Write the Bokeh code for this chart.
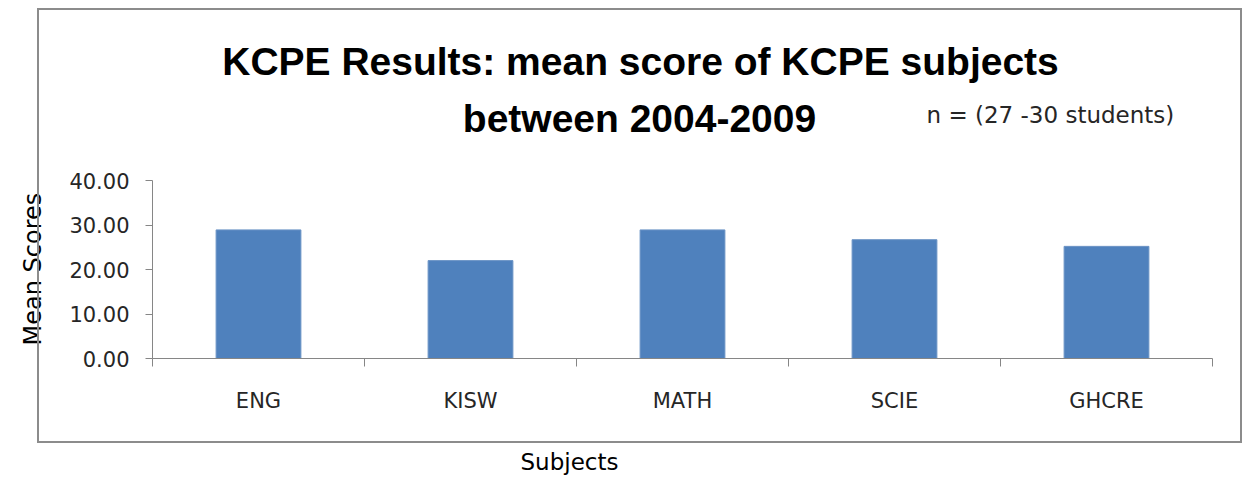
from bokeh.plotting import figure
from bokeh.models import (Range1d, FixedTicker, LinearAxis, NumeralTickFormatter,
                          ColumnDataSource, Title, InlineStyleSheet)
from bokeh.core.properties import value
from bokeh.embed import file_html
from bokeh.resources import INLINE

# ---- data ----
subjects = ["ENG", "KISW", "MATH", "SCIE", "GHCRE"]
mean_scores = [28.9, 22.0, 28.9, 26.7, 25.2]
y_ticks = [0, 10, 20, 30, 40]
title_line1 = "KCPE Results: mean score of KCPE subjects"
title_line2 = "between 2004-2009"
note = "n = (27 -30 students)"
y_label = "Mean Scores"
x_label = "Subjects"

positions = [i + 0.5 for i in range(len(subjects))]
src = ColumnDataSource(dict(x=positions, top=mean_scores, name=subjects))

SMALL = "DejaVu Sans"
TITLE_FONT = "Liberation Sans"
AXIS_GRAY = "#868686"
TEXT = "#262626"

# layout geometry (pixels)
FRAME_W, FRAME_H = 1060, 332          # frame extends above the bars to hold the title
AXIS_PX = 178                         # pixels spanned by 0..40 on the y axis
y_max = 40 * FRAME_H / AXIS_PX

p = figure(width=1240, height=476, output_backend="svg", toolbar_location=None,
           x_range=Range1d(0, len(subjects)), y_range=Range1d(0, y_max),
           x_axis_location=None, y_axis_location=None,
           min_border_left=152, min_border_right=28,
           min_border_top=26, min_border_bottom=118,
           frame_width=FRAME_W, frame_height=FRAME_H)
p.background_fill_color = "white"
p.border_fill_color = "white"
p.outline_line_color = None
p.xgrid.visible = False
p.ygrid.visible = False

# outer chart border (Excel-style chart area)
p.stylesheets = [InlineStyleSheet(css="""
:host { position: relative; }
:host::after {
  content: ""; position: absolute; left: 37px; top: 8px;
  width: 1205px; height: 435px; box-sizing: border-box;
  border: 2.5px solid #8c8c8c; pointer-events: none;
}
""")]

p.vbar(x="x", top="top", width=0.4, bottom=0, source=src,
       fill_color="#4F81BD", line_color="#6C94C6", line_width=1)

# y axis
yax = LinearAxis(ticker=FixedTicker(ticks=y_ticks, minor_ticks=[]),
                 formatter=NumeralTickFormatter(format="0.00"),
                 bounds=(y_ticks[0], y_ticks[-1]))
yax.axis_line_color = AXIS_GRAY
yax.major_tick_line_color = AXIS_GRAY
yax.major_tick_out = 7
yax.major_tick_in = 0
yax.minor_tick_line_color = None
yax.major_label_text_font = SMALL
yax.major_label_text_font_size = "21px"
yax.major_label_text_color = TEXT
yax.major_label_standoff = 16
p.add_layout(yax, "left")

# y axis title, positioned along the 0..40 part of the axis
p.add_layout(Title(text=y_label, text_font=SMALL, text_font_size="24px",
                   text_font_style="normal", text_color="black",
                   align="left", offset=13, vertical_align="top",
                   standoff=35), "left")

# x axis: labels at category centres, ticks at category boundaries
xax = LinearAxis(ticker=FixedTicker(ticks=positions,
                                    minor_ticks=list(range(len(subjects) + 1))))
xax.major_label_overrides = {pos: s for pos, s in zip(positions, subjects)}
xax.axis_line_color = AXIS_GRAY
xax.major_tick_line_color = None
xax.major_tick_out = 0
xax.major_tick_in = 0
xax.minor_tick_line_color = AXIS_GRAY
xax.minor_tick_out = 8
xax.minor_tick_in = 0
xax.major_label_text_font = SMALL
xax.major_label_text_font_size = "21px"
xax.major_label_text_color = TEXT
xax.major_label_standoff = 22
p.add_layout(xax, "below")

p.add_layout(Title(text=x_label, text_font=SMALL, text_font_size="23px",
                   text_font_style="normal", text_color="black",
                   align="left", offset=368, standoff=62), "below")

# title and note, drawn in data space above the bars
def to_x(px):   # page pixel -> data x
    return (px - 152) / (FRAME_W / len(subjects))

def to_y(py):   # page pixel -> data y
    return (358 - py) / (AXIS_PX / 40)

p.text(x=[to_x(640), to_x(639)], y=[to_y(61), to_y(118)],
       text=[title_line1, title_line2],
       text_font=value(TITLE_FONT), text_font_size="39px", text_font_style="bold",
       text_align="center", text_baseline="alphabetic", text_color="black")
p.text(x=[to_x(926)], y=[to_y(114)], text=[note],
       text_font=value(SMALL), text_font_size="23px",
       text_align="left", text_baseline="alphabetic", text_color=TEXT)

open("out.html", "w").write(file_html(p, INLINE))
